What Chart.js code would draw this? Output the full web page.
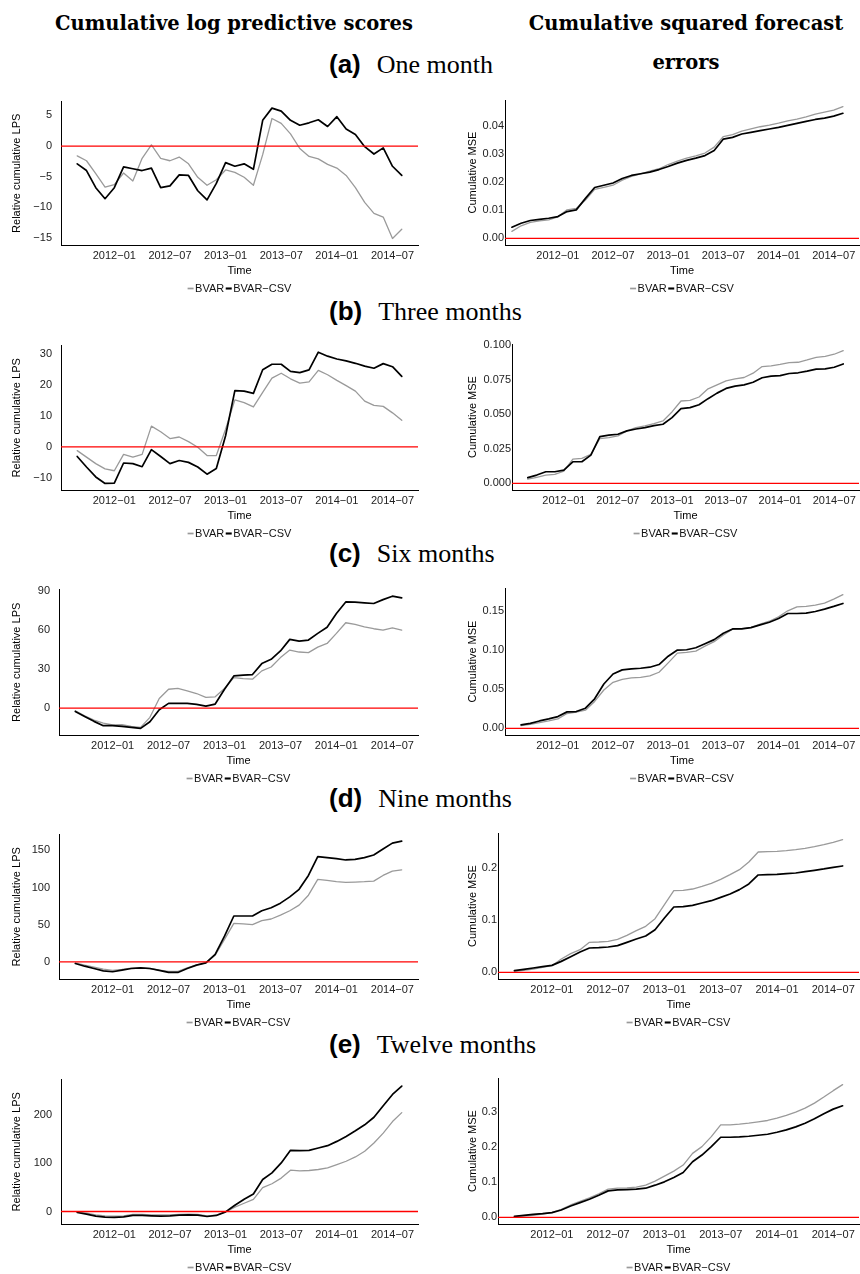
<!DOCTYPE html>
<html>
<head>
<meta charset="utf-8">
<script src="https://cdn.jsdelivr.net/npm/chart.js@4.4.1/dist/chart.umd.min.js"></script>
<style>
  body { margin: 0; background: #fff; width: 860px; height: 1274px; position: relative; overflow: hidden; }
  canvas { position: absolute; }
  .colhead { position: absolute; transform: translate(-50%, -50%); font: bold 19.5px "DejaVu Serif", serif; white-space: nowrap; color: #000; }
  .rowhead { position: absolute; left: 329px; transform: translateY(-50%); white-space: nowrap; color: #000; }
  .rowhead b { font: bold 26px "Liberation Sans", Arial, sans-serif; margin-right: 16px; }
  .rowhead span { font: 26px "Liberation Serif", serif; }
</style>
</head>
<body>
<div class="colhead" style="left:234px; top:23px">Cumulative log predictive scores</div>
<div class="colhead" style="left:686px; top:23px">Cumulative squared forecast</div>
<div class="colhead" style="left:686px; top:62px">errors</div>
<div class="rowhead" style="top:64px"><b>(a)</b><span>One month</span></div>
<div class="rowhead" style="top:311px"><b>(b)</b><span>Three months</span></div>
<div class="rowhead" style="top:553px"><b>(c)</b><span>Six months</span></div>
<div class="rowhead" style="top:798px"><b>(d)</b><span>Nine months</span></div>
<div class="rowhead" style="top:1044px"><b>(e)</b><span>Twelve months</span></div>

<script>
// monthly evaluation dates; most series start at 2011-09, the 1-month MSE one month earlier
const months = [
  '2011-08', '2011-09', '2011-10', '2011-11', '2011-12',
  '2012-01', '2012-02', '2012-03', '2012-04', '2012-05', '2012-06',
  '2012-07', '2012-08', '2012-09', '2012-10', '2012-11', '2012-12',
  '2013-01', '2013-02', '2013-03', '2013-04', '2013-05', '2013-06',
  '2013-07', '2013-08', '2013-09', '2013-10', '2013-11', '2013-12',
  '2014-01', '2014-02', '2014-03', '2014-04', '2014-05', '2014-06',
  '2014-07', '2014-08'
];
const tickMonths = ['2012-01', '2012-07', '2013-01', '2013-07', '2014-01', '2014-07'];
const seriesStart = '2011-09';

// relative cumulative LPS (gray = BVAR, black = BVAR-CSV)
const lps1Bvar = [-1.6, -2.4, -4.5, -6.7, -6.3, -4.4, -5.7, -2.0, 0.2, -2.0, -2.4, -1.8, -2.9, -5.1, -6.4, -5.5, -3.9, -4.3,
  -5.1, -6.4, -1.4, 4.5, 3.7, 2.0, -0.4, -1.7, -2.1, -3.0, -3.6, -4.8, -6.8, -9.2, -11.0, -11.6, -15.1, -13.6];
const lps1Csv = [-2.9, -4.0, -6.8, -8.6, -6.8, -3.4, -3.7, -4.0, -3.6, -6.8, -6.5, -4.7, -4.8, -7.3, -8.8, -6.1, -2.7, -3.3,
  -2.9, -3.8, 4.2, 6.2, 5.7, 4.2, 3.4, 3.8, 4.3, 3.2, 4.8, 2.8, 1.9, -0.1, -1.3, -0.3, -3.3, -4.8];
const lps3Bvar = [-1.2, -3.3, -5.4, -7.1, -7.7, -2.4, -3.3, -2.4, 6.7, 4.9, 2.7, 3.2, 1.7, -0.1, -2.8, -2.8, 5.7, 15.2,
  14.3, 12.9, 17.6, 22.2, 23.8, 22.0, 20.6, 21.0, 24.7, 23.3, 21.5, 19.8, 18.0, 14.8, 13.4, 13.1, 11.0, 8.6];
const lps3Csv = [-3.1, -6.5, -9.7, -11.8, -11.7, -5.2, -5.4, -6.4, -0.9, -3.1, -5.4, -4.4, -5.0, -6.5, -8.8, -7.0, 3.6, 18.2,
  18.0, 17.3, 24.9, 26.7, 26.7, 24.4, 24.0, 24.9, 30.6, 29.3, 28.4, 27.8, 27.0, 26.1, 25.4, 26.9, 25.9, 22.8];
const lps6Bvar = [-2.0, -5.9, -9.2, -11.5, -13.0, -12.8, -14.0, -14.8, -7.1, 7.4, 14.5, 15.1, 13.3, 11.2, 8.2, 8.7, 15.1, 23.5,
  22.7, 22.2, 28.6, 31.6, 38.8, 44.6, 43.1, 42.6, 46.9, 49.7, 57.4, 65.6, 64.3, 62.5, 61.0, 59.9, 61.7, 59.9];
const lps6Csv = [-2.6, -6.4, -10.2, -13.5, -13.5, -14.0, -14.8, -15.6, -10.5, -1.3, 3.6, 3.6, 3.6, 2.8, 1.5, 3.1, 14.5, 24.7,
  25.3, 25.8, 34.2, 37.5, 43.9, 52.8, 51.5, 52.3, 57.4, 62.2, 72.7, 81.6, 81.4, 80.9, 80.4, 83.4, 86.0, 84.7];
const lps9Bvar = [-1.3, -4.4, -7.1, -9.8, -11.5, -10.2, -8.4, -8.0, -8.9, -11.1, -12.9, -12.9, -8.0, -4.0, -1.3, 8.9, 30.2, 51.9,
  51.0, 50.1, 55.5, 57.7, 63.0, 68.8, 76.3, 89.7, 111.0, 109.6, 107.9, 107.0, 107.4, 107.9, 108.7, 116.3, 122.0, 123.8];
const lps9Csv = [-2.2, -5.8, -8.9, -12.0, -13.3, -11.1, -8.9, -8.0, -8.9, -11.5, -14.2, -14.2, -8.9, -4.4, -1.3, 10.2, 34.6, 61.7,
  61.7, 61.7, 68.8, 72.8, 79.0, 87.4, 97.6, 116.3, 141.6, 140.3, 138.9, 137.1, 138.0, 140.3, 143.8, 151.8, 159.8, 162.4];
const lps12Bvar = [-1.4, -3.4, -6.8, -8.9, -9.6, -8.9, -6.2, -6.2, -6.8, -6.8, -6.8, -6.2, -5.5, -6.2, -8.9, -7.5, -0.7, 8.9,
  17.1, 25.3, 49.3, 57.5, 69.2, 85.6, 84.2, 84.9, 87.0, 90.4, 97.3, 104.1, 113.0, 124.7, 141.8, 162.3, 186.3, 204.8];
const lps12Csv = [-2.1, -5.5, -9.6, -11.6, -12.3, -11.0, -8.2, -8.2, -8.9, -9.6, -8.9, -7.5, -6.8, -7.5, -10.3, -8.2, -0.7, 13.0,
  25.3, 36.3, 66.4, 80.1, 100.7, 126.7, 126.0, 126.7, 131.5, 136.3, 145.2, 155.5, 167.1, 179.5, 195.2, 219.2, 242.5, 259.6];

// cumulative MSE
const mse1Bvar = [0.0025, 0.0045, 0.0057, 0.0063, 0.0066, 0.0077, 0.0102, 0.0107, 0.0137, 0.0175, 0.0182, 0.0190, 0.0208,
  0.0222, 0.0231, 0.0240, 0.0249, 0.0264, 0.0276, 0.0287, 0.0295, 0.0305, 0.0326, 0.0364, 0.0371, 0.0383, 0.0391, 0.0399,
  0.0405, 0.0412, 0.0420, 0.0426, 0.0434, 0.0444, 0.0451, 0.0458, 0.0471];
const mse1Csv = [0.0040, 0.0054, 0.0064, 0.0068, 0.0072, 0.0078, 0.0096, 0.0102, 0.0143, 0.0182, 0.0190, 0.0198, 0.0214,
  0.0225, 0.0231, 0.0237, 0.0246, 0.0257, 0.0269, 0.0279, 0.0287, 0.0296, 0.0314, 0.0355, 0.0361, 0.0373, 0.0379, 0.0385,
  0.0391, 0.0397, 0.0404, 0.0411, 0.0418, 0.0425, 0.0430, 0.0437, 0.0447];
const mse3Bvar = [0.0031, 0.0043, 0.0060, 0.0065, 0.0089, 0.0175, 0.0180, 0.0209, 0.0324, 0.0331, 0.0343, 0.0379, 0.0403,
  0.0415, 0.0432, 0.0451, 0.0516, 0.0595, 0.0600, 0.0624, 0.0683, 0.0712, 0.0741, 0.0755, 0.0765, 0.0796, 0.0844, 0.0849,
  0.0859, 0.0873, 0.0875, 0.0892, 0.0911, 0.0918, 0.0933, 0.0959];
const mse3Csv = [0.0041, 0.0060, 0.0084, 0.0084, 0.0096, 0.0156, 0.0156, 0.0204, 0.0338, 0.0348, 0.0355, 0.0379, 0.0393,
  0.0403, 0.0417, 0.0427, 0.0475, 0.0540, 0.0547, 0.0568, 0.0612, 0.0652, 0.0686, 0.0703, 0.0712, 0.0731, 0.0763, 0.0775,
  0.0779, 0.0794, 0.0799, 0.0811, 0.0825, 0.0827, 0.0839, 0.0863];
const mse6Bvar = [0.0034, 0.0051, 0.0073, 0.0094, 0.0120, 0.0189, 0.0206, 0.0231, 0.0343, 0.0489, 0.0587, 0.0626, 0.0643,
  0.0651, 0.0669, 0.0716, 0.0836, 0.0960, 0.0969, 0.0986, 0.1050, 0.1106, 0.1191, 0.1264, 0.1273, 0.1290, 0.1329, 0.1367,
  0.1423, 0.1500, 0.1551, 0.1556, 0.1573, 0.1599, 0.1650, 0.1706];
const mse6Csv = [0.0043, 0.0064, 0.0094, 0.0120, 0.0150, 0.0210, 0.0214, 0.0257, 0.0377, 0.0566, 0.0694, 0.0746, 0.0759,
  0.0767, 0.0780, 0.0814, 0.0921, 0.0999, 0.1003, 0.1029, 0.1080, 0.1132, 0.1213, 0.1269, 0.1269, 0.1286, 0.1320, 0.1354,
  0.1401, 0.1466, 0.1466, 0.1470, 0.1491, 0.1521, 0.1556, 0.1594];
const mse9Bvar = [0.0019, 0.0038, 0.0064, 0.0096, 0.0127, 0.0255, 0.0357, 0.0433, 0.0573, 0.0580, 0.0592, 0.0631, 0.0707,
  0.0796, 0.0879, 0.1025, 0.1293, 0.1561, 0.1567, 0.1592, 0.1643, 0.1701, 0.1777, 0.1866, 0.1962, 0.2108, 0.2299, 0.2306,
  0.2312, 0.2325, 0.2344, 0.2369, 0.2401, 0.2439, 0.2484, 0.2535];
const mse9Csv = [0.0032, 0.0057, 0.0083, 0.0108, 0.0134, 0.0210, 0.0299, 0.0389, 0.0465, 0.0471, 0.0484, 0.0510, 0.0573,
  0.0637, 0.0694, 0.0815, 0.1038, 0.1248, 0.1255, 0.1280, 0.1325, 0.1369, 0.1433, 0.1497, 0.1580, 0.1688, 0.1860, 0.1866,
  0.1873, 0.1885, 0.1898, 0.1924, 0.1949, 0.1975, 0.2006, 0.2032];
const mse12Bvar = [0.0019, 0.0038, 0.0057, 0.0095, 0.0133, 0.0228, 0.0351, 0.0456, 0.0551, 0.0665, 0.0798, 0.0826, 0.0836,
  0.0855, 0.0912, 0.1026, 0.1168, 0.1311, 0.1482, 0.1814, 0.2004, 0.2289, 0.2621, 0.2621, 0.2640, 0.2669, 0.2707, 0.2745,
  0.2811, 0.2887, 0.2982, 0.3096, 0.3238, 0.3409, 0.3590, 0.3761];
const mse12Csv = [0.0028, 0.0057, 0.0085, 0.0104, 0.0133, 0.0209, 0.0323, 0.0418, 0.0513, 0.0627, 0.0750, 0.0779, 0.0788,
  0.0798, 0.0826, 0.0912, 0.1007, 0.1130, 0.1273, 0.1576, 0.1766, 0.2004, 0.2270, 0.2270, 0.2279, 0.2298, 0.2327, 0.2355,
  0.2412, 0.2479, 0.2564, 0.2669, 0.2792, 0.2934, 0.3067, 0.3162];

// y tick steps per panel
const lpsSteps = [5, 10, 30, 50, 100];
const mseSteps = [0.01, 0.025, 0.05, 0.1, 0.1];

// panel layout: chart-area edges in page pixels
const rows = [
  { top: 100, bottom: 245, leftL: 61, leftR: 505 },
  { top: 344, bottom: 490, leftL: 61, leftR: 512 },
  { top: 588, bottom: 735, leftL: 59, leftR: 505 },
  { top: 833, bottom: 979, leftL: 59, leftR: 498 },
  { top: 1078, bottom: 1224, leftL: 61, leftR: 498 }
];
const lpsData = [[lps1Bvar, lps1Csv], [lps3Bvar, lps3Csv], [lps6Bvar, lps6Csv], [lps9Bvar, lps9Csv], [lps12Bvar, lps12Csv]];
const mseData = [[mse1Bvar, mse1Csv], [mse3Bvar, mse3Csv], [mse6Bvar, mse6Csv], [mse9Bvar, mse9Csv], [mse12Bvar, mse12Csv]];
const mseStart = ['2011-08', seriesStart, seriesStart, seriesStart, seriesStart];

Chart.defaults.font.family = '"Liberation Sans", Arial, sans-serif';
Chart.defaults.font.size = 11;
Chart.defaults.color = '#000';

const first = months.indexOf(seriesStart);
const last = months.length - 1;
const xMin = first - 0.05 * (last - first);
const xMax = last + 0.05 * (last - first);
const minus = s => String(s).replace(/-/g, '\u2212');

// ggplot-style legend under the axis title
const ggLegend = {
  id: 'ggLegend',
  afterDraw(chart) {
    const { ctx, chartArea } = chart;
    const items = chart.data.datasets.filter(d => !d.isRef);
    ctx.save();
    ctx.font = '11px "Liberation Sans", Arial, sans-serif';
    ctx.textBaseline = 'middle';
    const keyW = 6, gap = 1.5;
    const widths = items.map(d => keyW + gap + ctx.measureText(d.label).width);
    const total = widths.reduce((a, b) => a + b, 0) + gap * (items.length - 1);
    let x = (chartArea.left + chartArea.right) / 2 - total / 2;
    const y = chartArea.bottom + 43.5;
    items.forEach(d => {
      ctx.strokeStyle = d.borderColor;
      ctx.lineWidth = d.borderWidth + 0.4;
      ctx.beginPath();
      ctx.moveTo(x, y);
      ctx.lineTo(x + keyW, y);
      ctx.stroke();
      x += keyW + gap;
      ctx.fillStyle = '#111';
      ctx.fillText(d.label, x, y);
      x += ctx.measureText(d.label).width + gap;
    });
    ctx.restore();
  }
};

function toPoints(values, start) {
  const s = months.indexOf(start);
  return values.map((v, i) => ({ x: s + i, y: v }));
}

function makePanel(row, side, series, start, step, yTitle) {
  const pageLeft = side === 'left' ? 0 : 430;
  const left = side === 'left' ? row.leftL : row.leftR;
  const right = side === 'left' ? 418 : 859;
  const padTop = 14, below = 54, xHeight = 33;
  const canvas = document.createElement('canvas');
  canvas.width = 430;
  canvas.height = row.bottom - row.top + padTop + below;
  canvas.style.left = pageLeft + 'px';
  canvas.style.top = (row.top - padTop) + 'px';
  document.body.appendChild(canvas);

  const all = series[0].concat(series[1], [0]);
  const lo = Math.min(...all), hi = Math.max(...all);
  const pad = 0.05 * (hi - lo);
  const decimals = (String(step).split('.')[1] || '').length;

  new Chart(canvas, {
    type: 'line',
    data: {
      datasets: [
        { label: 'zero', isRef: true, data: [{ x: xMin, y: 0 }, { x: xMax, y: 0 }], borderColor: '#ff0000', borderWidth: 1.3, order: 0 },
        { label: 'BVAR', data: toPoints(series[0], start), borderColor: '#9a9a9a', borderWidth: 1.3, order: 2 },
        { label: minus('BVAR-CSV'), data: toPoints(series[1], start), borderColor: '#000000', borderWidth: 1.7, order: 1 }
      ]
    },
    options: {
      responsive: false,
      animation: false,
      devicePixelRatio: 1,
      layout: { padding: { left: 0, right: pageLeft + 430 - right, top: padTop, bottom: below - xHeight } },
      elements: { point: { radius: 0 }, line: { tension: 0, borderJoinStyle: 'round', borderCapStyle: 'round' } },
      plugins: { legend: { display: false }, tooltip: { enabled: false } },
      scales: {
        x: {
          type: 'linear',
          min: xMin,
          max: xMax,
          grid: { display: false, drawTicks: false },
          border: { display: true, color: '#000', width: 1 },
          ticks: { color: '#222', padding: 4, autoSkip: false, maxRotation: 0, minRotation: 0,
            callback: v => minus(months[v]) },
          afterBuildTicks: s => { s.ticks = tickMonths.map(m => ({ value: months.indexOf(m) })); },
          title: { display: true, text: 'Time', color: '#000', padding: 0 },
          afterFit: s => { s.height = xHeight; }
        },
        y: {
          type: 'linear',
          min: lo - pad,
          max: hi + pad,
          grid: { display: false, drawTicks: false },
          border: { display: true, color: '#000', width: 1 },
          ticks: { color: '#222', padding: side === 'left' ? 9 : 1,
            callback: v => side === 'left' ? minus(v) : v.toFixed(decimals) },
          afterBuildTicks: s => {
            const t = [];
            for (let k = Math.ceil(s.min / step - 1e-9); k * step <= s.max + 1e-12; k++) t.push({ value: +(k * step).toFixed(6) });
            s.ticks = t;
          },
          title: { display: true, text: yTitle, color: '#000', padding: side === 'left' ? 10 : 36.4 },
          afterFit: s => { s.width = left - pageLeft; }
        }
      }
    },
    plugins: [ggLegend]
  });
}

rows.forEach((row, i) => {
  makePanel(row, 'left', lpsData[i], seriesStart, lpsSteps[i], 'Relative cumulative LPS');
  makePanel(row, 'right', mseData[i], mseStart[i], mseSteps[i], 'Cumulative MSE');
});
</script>
</body>
</html>
